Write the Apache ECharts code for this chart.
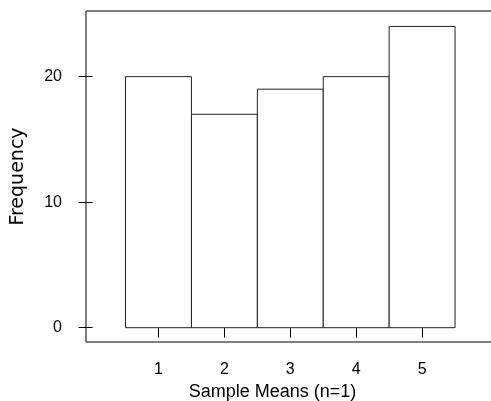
<!DOCTYPE html>
<html>
<head>
<meta charset="utf-8">
<script src="https://cdn.jsdelivr.net/npm/echarts@6/dist/echarts.min.js"></script>
<style>
  html, body { margin: 0; padding: 0; background: #fff; }
</style>
</head>
<body>
<div id="hist" style="width: 491px; height: 401px;"></div>
<script>
// histogram of sample means, one bin per value
const binCenters = [1, 2, 3, 4, 5];
const frequencies = [20, 17, 19, 20, 24];
const binWidth = 1;
const xTicks = [1, 2, 3, 4, 5];
const yTicks = [0, 10, 20];

const chart = echarts.init(document.getElementById('hist'));
const font = 'Liberation Sans, Arial, sans-serif';

const option = {
  animation: false,
  grid: {
    left: 86,
    top: 11,
    width: 409,
    height: 331,
    outerBoundsMode: 'none',
    containLabel: false,
    show: true,
    borderColor: '#000',
    borderWidth: 1,
    backgroundColor: 'transparent'
  },
  xAxis: {
    type: 'value',
    min: -0.1,
    max: 6.106,
    offset: 2,
    axisLine: { show: false },
    splitLine: { show: false },
    axisTick: { show: true, length: 10, customValues: xTicks, lineStyle: { color: '#000' } },
    axisLabel: { customValues: xTicks, margin: 18, color: '#000', fontSize: 16, fontFamily: font },
    name: 'Sample Means (n=1)',
    nameLocation: 'middle',
    nameGap: 35,
    nameTextStyle: { color: '#000', fontSize: 18, fontFamily: font, padding: [0, 36, 0, 0] }
  },
  yAxis: {
    type: 'value',
    min: -1.14,
    max: 25.23,
    axisLine: { show: false },
    splitLine: { show: false },
    axisTick: { show: true, length: 14, customValues: yTicks, lineStyle: { color: '#000' } },
    axisLabel: { customValues: yTicks, margin: 24, color: '#000', fontSize: 16, fontFamily: font },
    name: 'Frequency',
    nameLocation: 'middle',
    nameGap: 58,
    nameTextStyle: { color: '#000', fontSize: 19, fontFamily: 'DejaVu Sans, sans-serif' }
  },
  series: [
    {
      type: 'custom',
      data: binCenters.map((c, i) => [c - binWidth / 2, c + binWidth / 2, frequencies[i]]),
      encode: { x: [0, 1], y: 2 },
      renderItem: function (params, api) {
        const p0 = api.coord([api.value(0), 0]);
        const p1 = api.coord([api.value(1), api.value(2)]);
        return {
          type: 'rect',
          shape: { x: p0[0], y: p1[1], width: p1[0] - p0[0], height: p0[1] - p1[1] },
          style: { fill: '#fff', stroke: '#222', lineWidth: 1 }
        };
      }
    }
  ]
};
chart.setOption(option);
</script>
</body>
</html>
